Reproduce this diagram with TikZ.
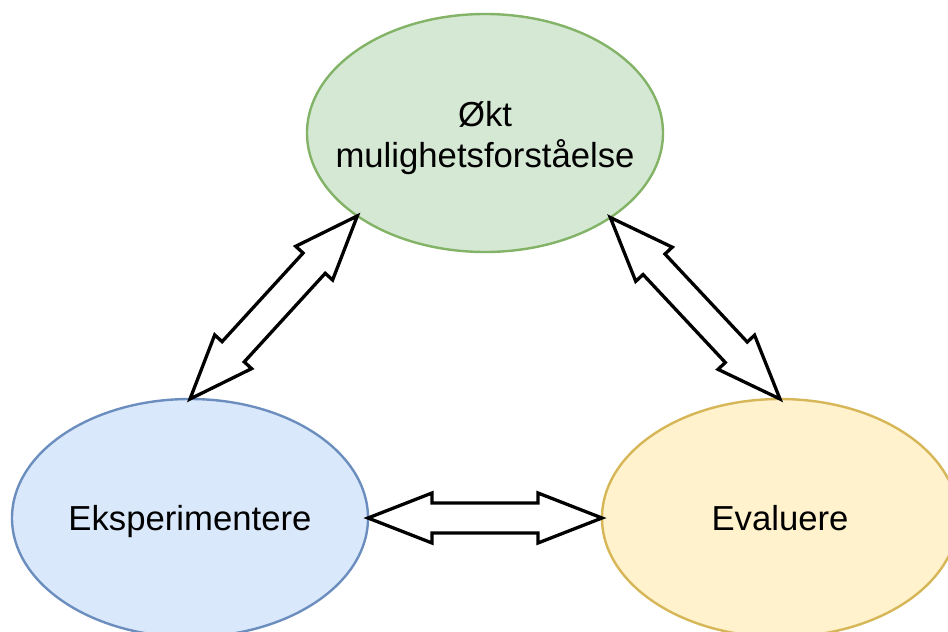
\documentclass[tikz,border=0pt]{standalone}
\usepackage{fontspec}
\setmainfont{Liberation Sans}
\usetikzlibrary{calc,shapes.geometric}

\definecolor{greenfill}{HTML}{D5E8D4}
\definecolor{greenline}{HTML}{82B366}
\definecolor{bluefill}{HTML}{DAE8FC}
\definecolor{blueline}{HTML}{6C8EBF}
\definecolor{yellowfill}{HTML}{FFF2CC}
\definecolor{yellowline}{HTML}{D6B656}

% Double-headed block arrow between two points:
% head length 64, head half-width 25, shaft half-width 15
\newcommand\blockarrow[2]{%
  \coordinate (ha) at ($(#1)!64pt!(#2)$);
  \coordinate (hb) at ($(#2)!64pt!(#1)$);
  \draw[blockline] (#1)
    -- ($(ha)!25pt!90:(#2)$) -- ($(ha)!15pt!90:(#2)$)
    -- ($(hb)!15pt!-90:(#1)$) -- ($(hb)!25pt!-90:(#1)$)
    -- (#2)
    -- ($(hb)!25pt!90:(#1)$) -- ($(hb)!15pt!90:(#1)$)
    -- ($(ha)!15pt!-90:(#2)$) -- ($(ha)!25pt!-90:(#2)$)
    -- cycle;}

\begin{document}
\begin{tikzpicture}[x=1pt,y=-1pt,
  bubble/.style={ellipse, line width=2.4pt, minimum width=356pt,
    minimum height=238pt, inner sep=0pt, outer sep=0pt},
  lbl/.style={font=\fontsize{34.7}{41}\selectfont, align=center,
    inner sep=0pt, text=black},
  blockline/.style={draw=black, fill=white, line width=3.3pt}]
  \useasboundingbox (0,0) rectangle (948,632);
  \clip (0,0) rectangle (948,632);

  % the three stages
  \node[bubble, draw=greenline, fill=greenfill] (top) at (485,133) {};
  \node[bubble, draw=blueline, fill=bluefill] (exp) at (190,518) {};
  \node[bubble, draw=yellowline, fill=yellowfill] (eval) at (780,518) {};

  \node[lbl] (toptext) at ($(top)+(0,5)$) {Økt\\mulighetsforståelse};
  \node[lbl, anchor=base] (exptext) at ($(exp)+(0,12)$) {Eksperimentere};
  \node[lbl, anchor=base] (evaltext) at ($(eval)+(0,12)$) {Evaluere};

  % connections between the stages
  \blockarrow{exp.north}{top.213.7}
  \blockarrow{top.326.5}{eval.north}
  \blockarrow{exp.east}{eval.west}
\end{tikzpicture}
\end{document}
